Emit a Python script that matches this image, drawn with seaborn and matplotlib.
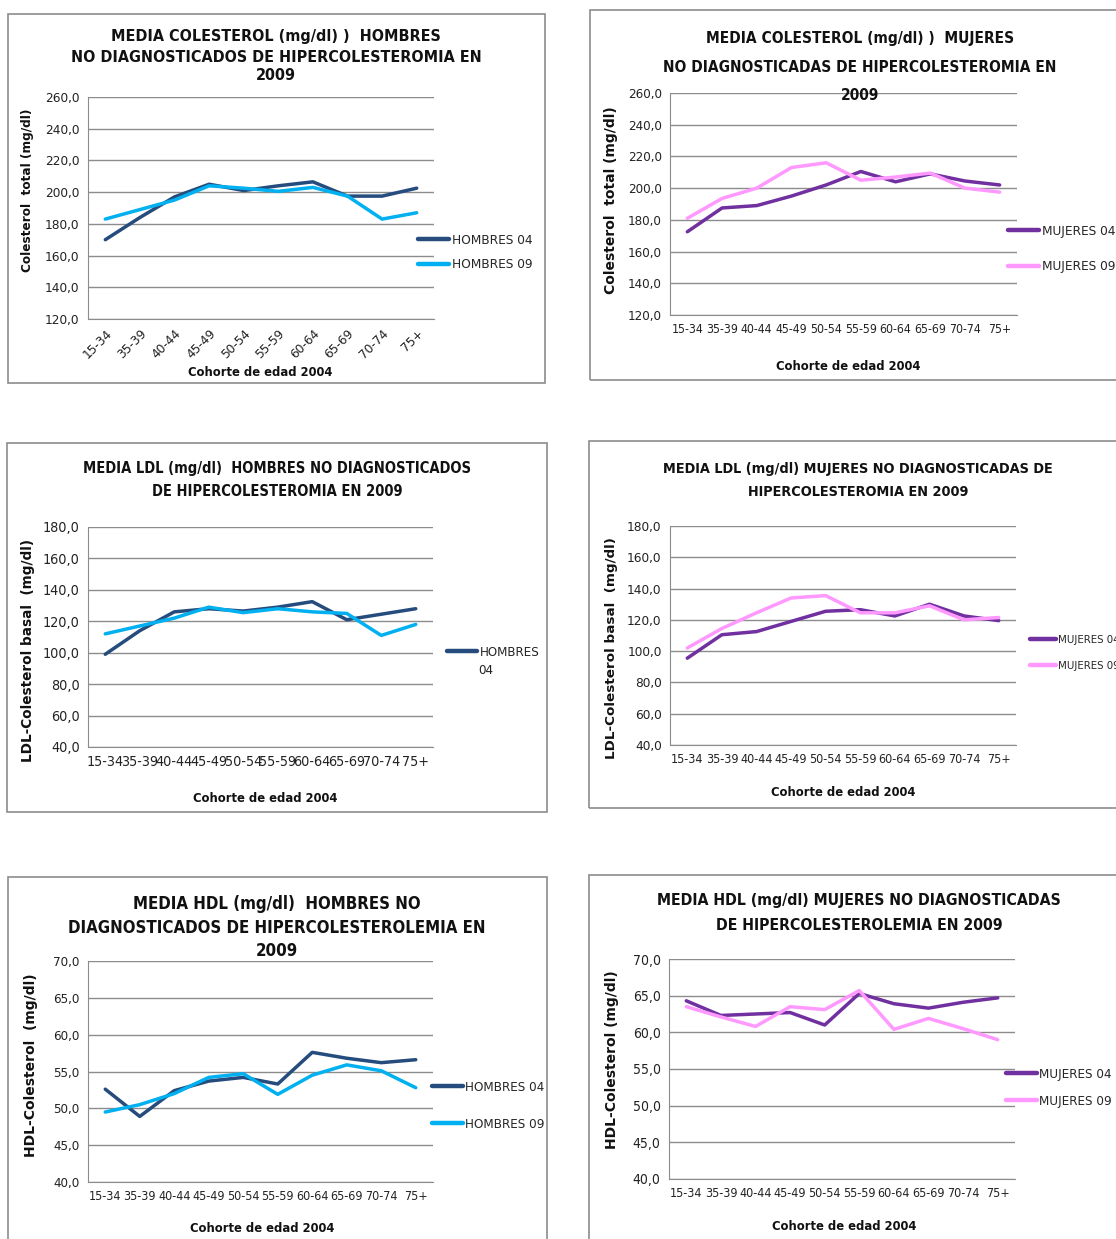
import os
import matplotlib
matplotlib.use("Agg")
import matplotlib.pyplot as plt
from matplotlib import font_manager
from matplotlib.font_manager import FontProperties
from matplotlib.patches import Rectangle
from matplotlib.lines import Line2D
from matplotlib.ticker import FuncFormatter
import seaborn as sns
import pandas as pd

# cohorts (same for all panels)
cohortes = ["15-34", "35-39", "40-44", "45-49", "50-54", "55-59", "60-64", "65-69", "70-74", "75+"]

# colesterol total
col_h04 = [170.0, 184.0, 197.0, 205.0, 201.0, 204.0, 206.5, 197.5, 197.5, 202.5]
col_h09 = [183.0, 189.0, 195.0, 204.0, 202.5, 200.5, 203.0, 197.5, 183.0, 187.0]
col_m04 = [172.5, 187.5, 189.0, 195.0, 202.0, 210.5, 204.0, 209.0, 204.5, 202.0]
col_m09 = [181.0, 193.5, 200.0, 213.0, 216.0, 205.0, 207.0, 209.5, 200.0, 197.5]

# LDL
ldl_h04 = [99.0, 114.0, 126.0, 128.0, 126.5, 129.0, 132.5, 121.0, 124.5, 128.0]
ldl_h09 = [112.0, 117.0, 122.0, 129.0, 125.5, 128.0, 126.0, 125.0, 111.0, 118.0]
ldl_m04 = [95.5, 110.5, 112.5, 119.0, 125.5, 126.5, 122.5, 130.0, 122.5, 119.5]
ldl_m09 = [102.0, 114.5, 124.5, 134.0, 135.5, 124.5, 124.5, 129.0, 120.0, 121.5]

# HDL
hdl_h04 = [52.6, 48.9, 52.4, 53.7, 54.2, 53.3, 57.6, 56.8, 56.2, 56.6]
hdl_h09 = [49.5, 50.5, 52.0, 54.2, 54.7, 51.9, 54.5, 55.9, 55.1, 52.8]
hdl_m04 = [64.3, 62.3, 62.5, 62.7, 61.0, 65.3, 63.9, 63.3, 64.1, 64.7]
hdl_m09 = [63.5, 62.1, 60.8, 63.5, 63.1, 65.7, 60.4, 61.9, 60.5, 59.0]

W, H = 1116, 1239
sns.set_style("white")
plt.rcParams["font.family"] = ["Liberation Sans", "DejaVu Sans"]


# look for a narrow font (the original has a Calibri / Arial Narrow look)
def find_narrow(bold):
    files = [f.fname for f in font_manager.fontManager.ttflist]
    prefs = ["LiberationSansNarrow", "DejaVuSansCondensed", "RobotoCondensed", "OpenSansCondensed"]
    for p in prefs:
        for fn in files:
            b = os.path.basename(fn)
            if not b.startswith(p) or "Italic" in b or "Oblique" in b:
                continue
            if bold and "Bold" in b:
                return fn
            if not bold and "Bold" not in b:
                return fn
    return None


reg_file, bold_file = find_narrow(False), find_narrow(True)
if reg_file and bold_file:
    def FP(size, bold=False):
        return FontProperties(fname=bold_file if bold else reg_file, size=size)
else:
    def FP(size, bold=False):
        return FontProperties(family=["Liberation Sans", "DejaVu Sans"], size=size * 0.9,
                              weight="bold" if bold else "normal")

fig = plt.figure(figsize=(W / 100, H / 100), dpi=100)

AZUL_OSC, AZUL_CLA = "#254C7D", "#00B0F0"
MORADO, ROSA = "#7030A0", "#FF99FF"


def fx(x):
    return x / W


def fy(y):
    return 1 - y / H


def box(x0, y0, x1, y1):
    fig.add_artist(Rectangle((fx(x0), fy(y1)), fx(x1 - x0), (y1 - y0) / H,
                             transform=fig.transFigure, fill=False,
                             edgecolor="#8c8c8c", lw=1.2))


def panel(rect, s04, s09, names, colors, ylim, ystep, ticksize=9.7, xticksize=9, rot=0,
          legend_pos=None, legend_size=9.7, legend_gap=1.0, legend_labels=None):
    x0, y0, x1, y1 = rect
    ax = fig.add_axes([fx(x0), fy(y1), fx(x1 - x0), (y1 - y0) / H])
    df = pd.DataFrame({
        "cohorte": cohortes * 2,
        "valor": s04 + s09,
        "serie": [names[0]] * len(cohortes) + [names[1]] * len(cohortes),
    })
    sns.lineplot(data=df, x="cohorte", y="valor", hue="serie", palette=colors,
                 sort=False, lw=2.5, ax=ax, legend=False)
    ax.set_xlim(-0.5, len(cohortes) - 0.5)
    ax.set_ylim(*ylim)
    ax.set_yticks(list(range(int(ylim[0]), int(ylim[1]) + 1, ystep)))
    ax.yaxis.set_major_formatter(FuncFormatter(lambda v, p: f"{v:.1f}".replace(".", ",")))
    ax.grid(axis="y", color="#8c8c8c", lw=1)
    ax.set_axisbelow(True)
    for s in ["top", "right"]:
        ax.spines[s].set_visible(False)
    ax.spines["left"].set_color("#8c8c8c")
    ax.spines["bottom"].set_color("#8c8c8c")
    ax.set_xlabel("")
    ax.set_ylabel("")
    ax.tick_params(axis="both", length=0, colors="#222222", pad=6)
    for lab in ax.get_yticklabels():
        lab.set_fontproperties(FP(ticksize))
    for lab in ax.get_xticklabels():
        lab.set_fontproperties(FP(xticksize))
    if rot:
        plt.setp(ax.get_xticklabels(), rotation=rot, ha="right", rotation_mode="anchor")
    if legend_pos is not None:
        handles = [Line2D([], [], color=c, lw=3.2) for c in colors]
        labs = legend_labels if legend_labels else names
        ax.legend(handles[:len(labs)], labs, loc="upper left", frameon=False,
                  bbox_to_anchor=(fx(legend_pos[0]), fy(legend_pos[1])),
                  bbox_transform=fig.transFigure, handlelength=2.3,
                  handletextpad=0.2, labelspacing=legend_gap, borderaxespad=0,
                  borderpad=0, prop=FP(legend_size))
    return ax


def title(lines, cx, ys, size=11.5):
    for t, y in zip(lines, ys):
        fig.text(fx(cx), fy(y), t, ha="center", va="center",
                 fontproperties=FP(size, bold=True), color="#111111")


def ylab(t, x, y, size=9.5):
    fig.text(fx(x), fy(y), t, rotation=90, ha="center", va="center", fontsize=size,
             fontweight="bold", family="DejaVu Sans", color="#111111")


def xlab(t, x, y, size=9.3):
    fig.text(fx(x), fy(y), t, ha="center", va="center",
             fontproperties=FP(size, bold=True), color="#111111")


# ---- boxes ----
box(8, 14, 545, 383)
box(590, 10, 1120, 380)
box(7, 443, 547, 812)
box(589, 441, 1120, 808)
box(8, 877, 547, 1245)
box(589, 875, 1120, 1245)

# ---- panel 1: colesterol hombres ----
panel((88, 97, 434, 319), col_h04, col_h09, ["HOMBRES 04", "HOMBRES 09"],
      [AZUL_OSC, AZUL_CLA], (120, 260), 20, ticksize=9.7, xticksize=9.7, rot=45,
      legend_pos=(418, 234), legend_size=9.7, legend_gap=0.85)
title(["MEDIA COLESTEROL (mg/dl) )  HOMBRES",
       "NO DIAGNOSTICADOS DE HIPERCOLESTEROMIA EN", "2009"], 276, [37, 57, 76], size=11.5)
ylab("Colesterol  total (mg/dl)", 28, 190, size=8.7)
xlab("Cohorte de edad 2004", 260, 373)

# ---- panel 2: colesterol mujeres ----
panel((670, 93, 1017, 315), col_m04, col_m09, ["MUJERES 04", "MUJERES 09"],
      [MORADO, ROSA], (120, 260), 20, ticksize=9.5, xticksize=8.8,
      legend_pos=(1008, 225), legend_size=9.7, legend_gap=1.67)
title(["MEDIA COLESTEROL (mg/dl) )  MUJERES",
       "NO DIAGNOSTICADAS DE HIPERCOLESTEROMIA EN", "2009"], 860, [38, 67, 95], size=11.1)
ylab("Colesterol  total (mg/dl)", 611, 200, size=10)
xlab("Cohorte de edad 2004", 848, 366)

# ---- panel 3: LDL hombres ----
panel((88, 527, 433, 747), ldl_h04, ldl_h09, ["HOMBRES", "HOMBRES 09"],
      [AZUL_OSC, AZUL_CLA], (40, 180), 20, ticksize=10.3, xticksize=10.3,
      legend_pos=(447, 646), legend_size=9.5, legend_labels=["HOMBRES"])
fig.text(fx(478), fy(670), "04", ha="left", va="center", fontproperties=FP(9.5), color="#222222")
title(["MEDIA LDL (mg/dl)  HOMBRES NO DIAGNOSTICADOS",
       "DE HIPERCOLESTEROMIA EN 2009"], 277, [469, 492], size=10.5)
ylab("LDL-Colesterol basal  (mg/dl)", 28, 650, size=9.8)
xlab("Cohorte de edad 2004", 265, 799)

# ---- panel 4: LDL mujeres ----
panel((670, 526, 1016, 745), ldl_m04, ldl_m09, ["MUJERES 04", "MUJERES 09"],
      [MORADO, ROSA], (40, 180), 20, ticksize=9.7, xticksize=9,
      legend_pos=(1030, 635), legend_size=8.2, legend_gap=1.37)
title(["MEDIA LDL (mg/dl) MUJERES NO DIAGNOSTICADAS DE",
       "HIPERCOLESTEROMIA EN 2009"], 858, [469, 492], size=10.4)
ylab("LDL-Colesterol basal  (mg/dl)", 612, 648, size=9.7)
xlab("Cohorte de edad 2004", 843, 793)

# ---- panel 5: HDL hombres ----
panel((88, 961, 433, 1182), hdl_h04, hdl_h09, ["HOMBRES 04", "HOMBRES 09"],
      [AZUL_OSC, AZUL_CLA], (40, 70), 5, ticksize=9.5, xticksize=9,
      legend_pos=(432, 1081), legend_size=9.6, legend_gap=1.78)
title(["MEDIA HDL (mg/dl)  HOMBRES NO",
       "DIAGNOSTICADOS DE HIPERCOLESTEROLEMIA EN", "2009"], 277, [904, 928, 951], size=12.1)
ylab("HDL-Colesterol  (mg/dl)", 31, 1065, size=10)
xlab("Cohorte de edad 2004", 262, 1229)

# ---- panel 6: HDL mujeres ----
panel((669, 959, 1015, 1179), hdl_m04, hdl_m09, ["MUJERES 04", "MUJERES 09"],
      [MORADO, ROSA], (40, 70), 5, ticksize=10, xticksize=9,
      legend_pos=(1006, 1068), legend_size=9.6, legend_gap=1.03)
title(["MEDIA HDL (mg/dl) MUJERES NO DIAGNOSTICADAS",
       "DE HIPERCOLESTEROLEMIA EN 2009"], 859, [901, 925], size=11.3)
ylab("HDL-Colesterol (mg/dl)", 612, 1060, size=10)
xlab("Cohorte de edad 2004", 844, 1226)

fig.savefig("out.png", dpi=100, facecolor="white")
